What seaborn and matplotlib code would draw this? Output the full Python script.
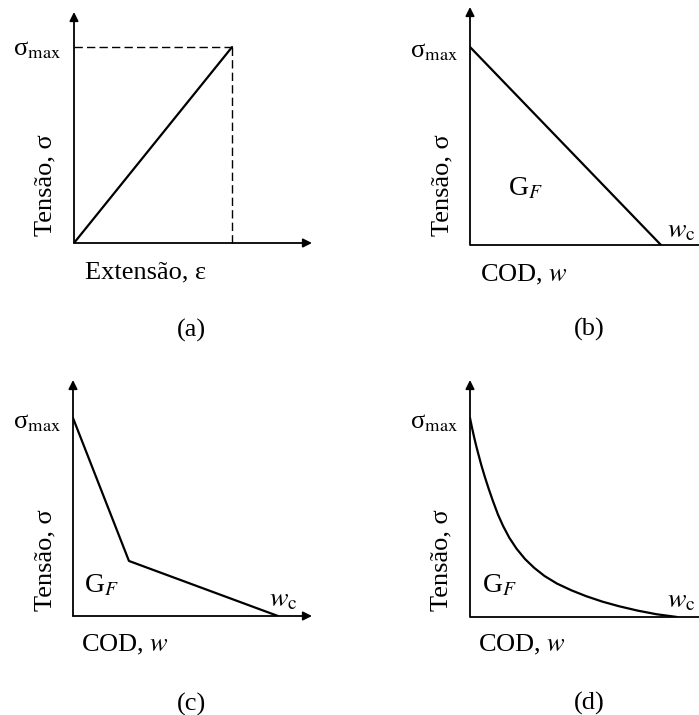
import matplotlib
matplotlib.use("Agg")
import matplotlib.pyplot as plt
import seaborn as sns
import pandas as pd

# ---------------- data (normalised: sigma_max = 1, w_c / eps_peak = 1) ----------------
a_strain = [0.0, 1.0]
a_stress = [0.0, 1.0]

b_cod = [0.0, 1.0]
b_stress = [1.0, 0.0]

c_cod = [0.0, 0.273, 1.0]
c_stress = [1.0, 0.278, 0.0]

d_cod = [0.0, 0.01, 0.02, 0.03, 0.04, 0.055, 0.072, 0.09, 0.11, 0.135, 0.16, 0.19,
         0.225, 0.266, 0.31, 0.36, 0.42, 0.49, 0.56, 0.64, 0.72, 0.81, 0.9, 1.0]
d_stress = [1.0, 0.95, 0.903, 0.86, 0.82, 0.762, 0.703, 0.645, 0.585, 0.515, 0.457, 0.398,
            0.343, 0.291, 0.247, 0.206, 0.168, 0.134, 0.105, 0.077, 0.054, 0.032, 0.014, 0.0]

panel_labels = ["(a)", "(b)", "(c)", "(d)"]
ylabel_text = "Tensão, σ"
xlabel_a = "Extensão, ε"
xlabel_cod = "COD, $w$"
smax_text = r"σ$_{\mathrm{max}}$"
gf_text = r"G$_{F}$"
wc_text = r"$w_{\mathrm{c}}$"

# ---------------- styling ----------------
sns.set_theme(style="white")
plt.rcParams["font.family"] = ["Liberation Serif", "DejaVu Serif"]
plt.rcParams["mathtext.fontset"] = "stix"

W, H = 699, 715
fig = plt.figure(figsize=(W / 100, H / 100), dpi=100)
fig.patch.set_facecolor("white")
FS = 19


def add_panel(x0, y0, x1, y1, xmax, ymax):
    ax = fig.add_axes([x0 / W, 1 - y0 / H, (x1 - x0) / W, (y0 - y1) / H])
    ax.set_xlim(0, xmax)
    ax.set_ylim(0, ymax)
    ax.set_axis_off()
    return ax


def draw_axes(ax, x_arrow=True):
    ap = dict(arrowstyle="-|>", lw=1.3, color="black", mutation_scale=13,
              shrinkA=0, shrinkB=0)
    ax.annotate("", xy=(0, 1), xytext=(0, 0), xycoords="axes fraction",
                textcoords="axes fraction", arrowprops=ap, annotation_clip=False)
    if x_arrow:
        ax.annotate("", xy=(1, 0), xytext=(0, 0), xycoords="axes fraction",
                    textcoords="axes fraction", arrowprops=ap, annotation_clip=False)
    else:
        ax.plot([0, 1], [0, 0], color="black", lw=1.3, transform=ax.transAxes,
                clip_on=False, solid_capstyle="butt")


def ftext(x, y, s, **kw):
    kw.setdefault("fontsize", FS)
    kw.setdefault("ha", "center")
    kw.setdefault("va", "center")
    fig.text(x / W, 1 - y / H, s, color="black", **kw)


line_kw = dict(color="black", linewidth=1.6, sort=False, legend=False)

# ---- (a)
ax_a = add_panel(74, 243, 312, 12, 1.506, 1.179)
draw_axes(ax_a)
df_a = pd.DataFrame({"x": a_strain, "y": a_stress})
sns.lineplot(data=df_a, x="x", y="y", ax=ax_a, **line_kw)
ax_a.plot([0, a_strain[-1]], [a_stress[-1], a_stress[-1]], color="black", lw=1.0,
          dashes=(6, 3), clip_on=False)
ax_a.plot([a_strain[-1], a_strain[-1]], [0, a_stress[-1]], color="black", lw=1.0,
          dashes=(6, 3), clip_on=False)
ax_a.set_axis_off()
ftext(61, 50, smax_text, ha="right")
ftext(45, 185, ylabel_text, rotation=90)
ftext(146, 272, xlabel_a)
ftext(191, 330, panel_labels[0])

# ---- (b)
ax_b = add_panel(470, 245, 699, 7, 1.199, 1.202)
draw_axes(ax_b, x_arrow=False)
df_b = pd.DataFrame({"x": b_cod, "y": b_stress})
sns.lineplot(data=df_b, x="x", y="y", ax=ax_b, **line_kw)
ax_b.set_axis_off()
ftext(458, 52, smax_text, ha="right")
ftext(442, 185, ylabel_text, rotation=90)
ftext(526, 189, gf_text, fontsize=FS + 1)
ftext(681, 231, wc_text, fontsize=FS + 1)
ftext(524, 275, xlabel_cod)
ftext(589, 329, panel_labels[1])

# ---- (c)
ax_c = add_panel(73, 616, 312, 380, 1.166, 1.192)
draw_axes(ax_c)
df_c = pd.DataFrame({"x": c_cod, "y": c_stress})
sns.lineplot(data=df_c, x="x", y="y", ax=ax_c, **line_kw)
ax_c.set_axis_off()
ftext(61, 423, smax_text, ha="right")
ftext(45, 560, ylabel_text, rotation=90)
ftext(102, 586, gf_text, fontsize=FS + 1)
ftext(283, 600, wc_text, fontsize=FS + 1)
ftext(125, 645, xlabel_cod)
ftext(191, 704, panel_labels[2])

# ---- (d)
ax_d = add_panel(470, 617, 699, 380, 1.106, 1.191)
draw_axes(ax_d, x_arrow=False)
df_d = pd.DataFrame({"x": d_cod, "y": d_stress})
sns.lineplot(data=df_d, x="x", y="y", ax=ax_d, **line_kw)
ax_d.set_axis_off()
ftext(458, 423, smax_text, ha="right")
ftext(441, 560, ylabel_text, rotation=90)
ftext(500, 586, gf_text, fontsize=FS + 1)
ftext(681, 601, wc_text, fontsize=FS + 1)
ftext(522, 645, xlabel_cod)
ftext(589, 703, panel_labels[3])

fig.savefig("out.png", dpi=100, facecolor="white")
